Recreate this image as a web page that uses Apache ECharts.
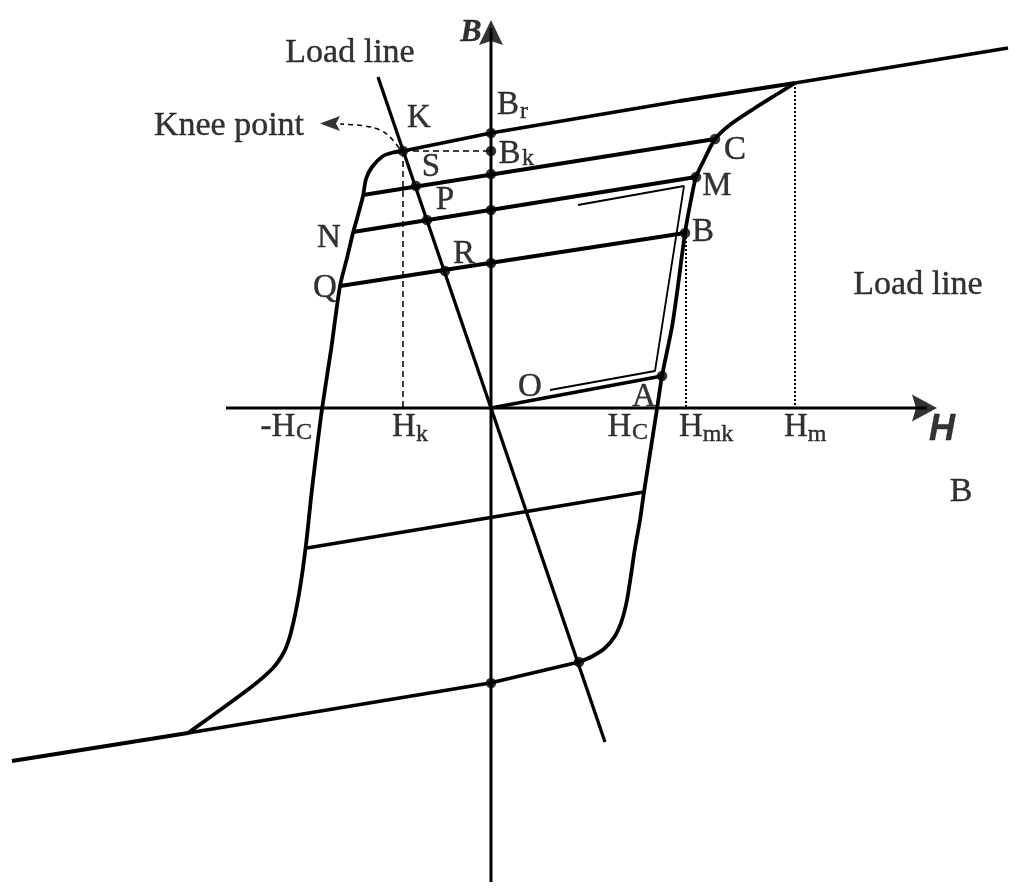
<!DOCTYPE html>
<html><head><meta charset="utf-8">
<script src="https://cdn.jsdelivr.net/npm/echarts@6/dist/echarts.min.js"></script>
<style>html,body{margin:0;padding:0;background:#fff}#c{width:1024px;height:895px}</style>
</head><body><div id="c"></div>
<script>
// Coordinates in (H, B) diagram units, origin at the axes crossing.
const upperSaturation = [[-88,257],[0,275],[189,307],[304,325],[517,360]];
const lowerSaturation = [[-479,-353],[-303,-325],[-1,-275],[88,-254]];
const descendingBranch = [[-303,-325],[-241,-280],[-218,-260],[-207,-244],[-201,-228],[-196,-207],[-192,-186],[-188,-160],[-184,-128],[-180,-90],[-176,-56],[-169,-1],[-160,58],[-151,122],[-144,150],[-138,175],[-133,193],[-128,212],[-125,229],[-119,241],[-108,252],[-98,255.5],[-88,257]];
const ascendingBranch = [[88,-254],[100,-249],[114,-240],[124,-228],[131,-212],[136,-192],[140,-167],[144,-140],[149,-112],[153,-84],[166,-1],[171,32],[181,81],[186,115],[194,175],[199,203],[205,231],[214,250],[224,269],[240,284],[264,300],[288,315],[304,325]];
const recoilS = [[-128,213],[224,269]];
const recoilP = [[-138,176],[205,231]];
const recoilR = [[-151,122],[194,175]];
const recoilLow = [[-184,-140],[153,-84]];
const minorOA = [[0,0],[171,32]];
const minorThin = [[59,18],[164,37],[193,222],[87,203]];
const loadLine = [[-113,331],[114,-334]];
const markedPoints = [[-88,257],[-75,222],[-64,188],[-46,137],[0,275],[0,257],[0,234],[0,198],[0,145],[224,269],[205,231],[194,175],[171,32],[0,-275],[88,-254]];
const kneeGuideH = [[-88,257],[-88,0]];
const kneeGuideB = [[-88,257],[0,257]];
const hmkGuide = [[195,175],[195,0]];
const hmGuide = [[304,325],[304,0]];
const kneeArrowPath = [[-92,260],[-101,271],[-111,278],[-126,282],[-151,284]];
const kneeArrowHead = [[-161,284.5]];
const hAxisLine = [[-265,0],[436,0]];
const bAxisLine = [[0,-474],[0,380]];
const hArrowHead = [[433.5,0]];
const bArrowHead = [[0,375.5]];
const textLabels = [['Load line',-141,355],['Knee point',-262,282],['Load line',427,123],['B',470,-84]];
const letterLabels = [['K',-72,290],['S',-60,241],['P',-46,208],['N',-162,170],['R',-27,154],['Q',-166,120],['C',244,258],['M',226,222],['B',212,176],['O',39,21],['A',153,11],['B',17,303],['B',18.5,254],['-H',-213,-19],['H',-87,-19],['H',128.5,-19],['H',200,-19],['H',305,-19]];
const subLabels = [['r',33,296],['k',37,249],['C',-187,-25],['k',-69,-27],['C',149,-25],['mk',227,-27],['m',326,-27]];
const axisTitleB = [['B',-20,375]];
const axisTitleH = [['H',451,-22]];

const chart = echarts.init(document.getElementById('c'));
const K = '#000';
function line(data, width, extra) {
  return Object.assign({type:'line', data:data, symbol:'none', silent:true,
    lineStyle:{color:K, width:width}, z:2}, extra||{});
}
function labels(list, font) {
  return {type:'scatter', symbolSize:0, silent:true, z:5,
    data: list.map(l => ({value:[l[1], l[2]], name:l[0]})),
    label:{show:true, position:'inside', formatter:p=>p.name, color:K,
      textBorderColor:K, textBorderWidth:0.4,
      align:'center', verticalAlign:'middle', ...font}};
}
const serif = 'Liberation Serif';
chart.setOption({
  animation:false,
  grid:{left:0,right:0,top:0,bottom:0,containLabel:false},
  xAxis:{type:'value',min:-491,max:533,show:false},
  yAxis:{type:'value',min:-487,max:408,show:false},
  series:[
    line(hAxisLine,3),
    line(bAxisLine,3),
    line(upperSaturation,3.8),
    line(lowerSaturation,3.8),
    line(descendingBranch,3.8,{smooth:0.25}),
    line(ascendingBranch,3.8,{smooth:0.25}),
    line(recoilS,3.8), line(recoilP,3.8), line(recoilR,3.8), line(recoilLow,3.8),
    line(minorOA,3.5),
    line(minorThin,1.8),
    line(loadLine,3.3),
    line(kneeGuideH,1.5,{lineStyle:{color:K,width:1.5,type:[6,4]}}),
    line(kneeGuideB,1.5,{lineStyle:{color:K,width:1.5,type:[6,4]}}),
    line(hmkGuide,2,{lineStyle:{color:K,width:2,type:[2,2]}}),
    line(hmGuide,2,{lineStyle:{color:K,width:2,type:[2,2]}}),
    line(kneeArrowPath,1.5,{smooth:0.4,lineStyle:{color:K,width:1.5,type:[5,4]}}),
    {type:'scatter',data:kneeArrowHead,symbol:'path://M0,8L20,0L16,8L20,16Z',symbolSize:[20,15],itemStyle:{color:K},silent:true,z:4},
    {type:'scatter',data:hArrowHead,symbol:'path://M0,0L25,13L0,26L4,13Z',symbolSize:[25,27],itemStyle:{color:K},silent:true,z:4},
    {type:'scatter',data:bArrowHead,symbol:'path://M12,0L24,25L12,21L0,25Z',symbolSize:[24,25],itemStyle:{color:K},silent:true,z:4},
    {type:'scatter',data:markedPoints,symbol:'circle',symbolSize:10.5,itemStyle:{color:K},silent:true,z:4},
    labels(textLabels,{fontFamily:serif,fontSize:34}),
    labels(letterLabels,{fontFamily:serif,fontSize:33}),
    labels(subLabels,{fontFamily:serif,fontSize:24}),
    labels(axisTitleB,{fontFamily:serif,fontSize:32,fontWeight:'bold',fontStyle:'italic'}),
    labels(axisTitleH,{fontFamily:'Liberation Sans',fontSize:36,fontWeight:'bold',fontStyle:'italic'})
  ]
});
</script></body></html>
